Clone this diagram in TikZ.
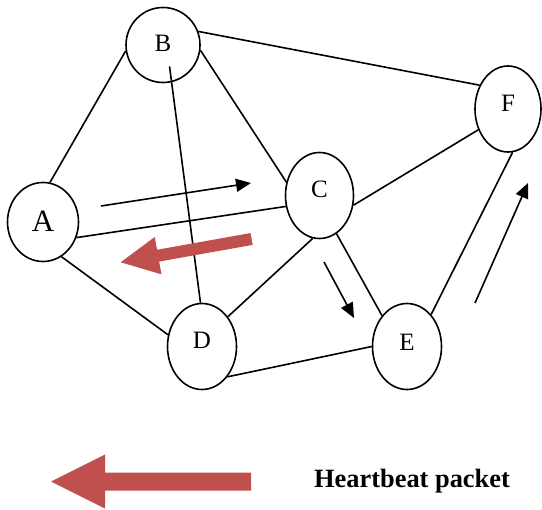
\documentclass[tikz,border=0pt]{standalone}
\usepackage{fontspec}
\setmainfont{Liberation Serif}
\usetikzlibrary{arrows.meta,shapes.geometric}
\definecolor{hbred}{RGB}{192,80,77}
\begin{document}
\begin{tikzpicture}[x=1bp,y=-1bp,
  peer/.style={draw, ellipse, line width=1.6bp, inner sep=0pt,
    font=\fontsize{25bp}{25bp}\selectfont, text depth=12bp},
  link/.style={line width=1.6bp},
  flow/.style={line width=1.6bp, -{Triangle[length=15bp,width=13bp]}},
  hbarrow/.style={fill=hbred}]
\useasboundingbox (0,0) rectangle (542,510);
% peers
\node[peer, minimum width=71bp, minimum height=79bp,
  font=\fontsize{31bp}{31bp}\selectfont, text depth=2bp] (A) at (43,222) {A};
\node[peer, minimum width=74bp, minimum height=75bp, text depth=4bp] (B) at (163,45) {B};
\node[peer, minimum width=68bp, minimum height=86bp] (C) at (319.5,195.5) {C};
\node[peer, minimum width=69bp, minimum height=86bp] (D) at (202,346.5) {D};
\node[peer, minimum width=69bp, minimum height=86bp, text depth=9bp] (E) at (407,346.5) {E};
\node[peer, minimum width=66bp, minimum height=86bp] (F) at (508,109) {F};
% links
\draw[link] (A.80) -- (B.189);
\draw[link] (B.21) -- (F.140);
\draw[link] (B.-8) -- (C.158);
\draw[link, shorten <=-16bp] (B.-77) -- (D.92.6);
\draw[link] (A.-25) -- (C.198);
\draw[link] (C.-16) -- (F.215);
\draw[link] (A.-62) -- (D.161);
\draw[link] (C.261.5) -- (D.49);
\draw[link] (C.-66.5) -- (E.129);
\draw[link] (D.-50) -- (E.180);
\draw[link] (E.53) -- (F.-84);
% route arrows
\coordinate (ac1) at (101,206); \coordinate (ac2) at (251,183);
\coordinate (ce1) at (324,262); \coordinate (ce2) at (354,318);
\coordinate (ef1) at (475,303); \coordinate (ef2) at (528,183);
\draw[flow] (ac1) -- (ac2);
\draw[flow] (ce1) -- (ce2);
\draw[flow] (ef1) -- (ef2);
% heartbeat arrow in the graph
\begin{scope}[shift={(120.7,262.3)}, rotate=10.1]
  \fill[hbarrow] (0,0) -- (38,-19) -- (38,-6) -- (133,-6) -- (133,6) -- (38,6) -- (38,19) -- cycle;
\end{scope}
% legend
\fill[hbarrow] (51,481.5) -- (105,454.5) -- (105,472.5) -- (251,472.5) -- (251,490.5)
  -- (105,490.5) -- (105,508.5) -- cycle;
\node[font=\bfseries\fontsize{26.4bp}{26.4bp}\selectfont, anchor=base, inner sep=0pt]
  (key) at (412,487.3) {Heartbeat packet};
\end{tikzpicture}
\end{document}
